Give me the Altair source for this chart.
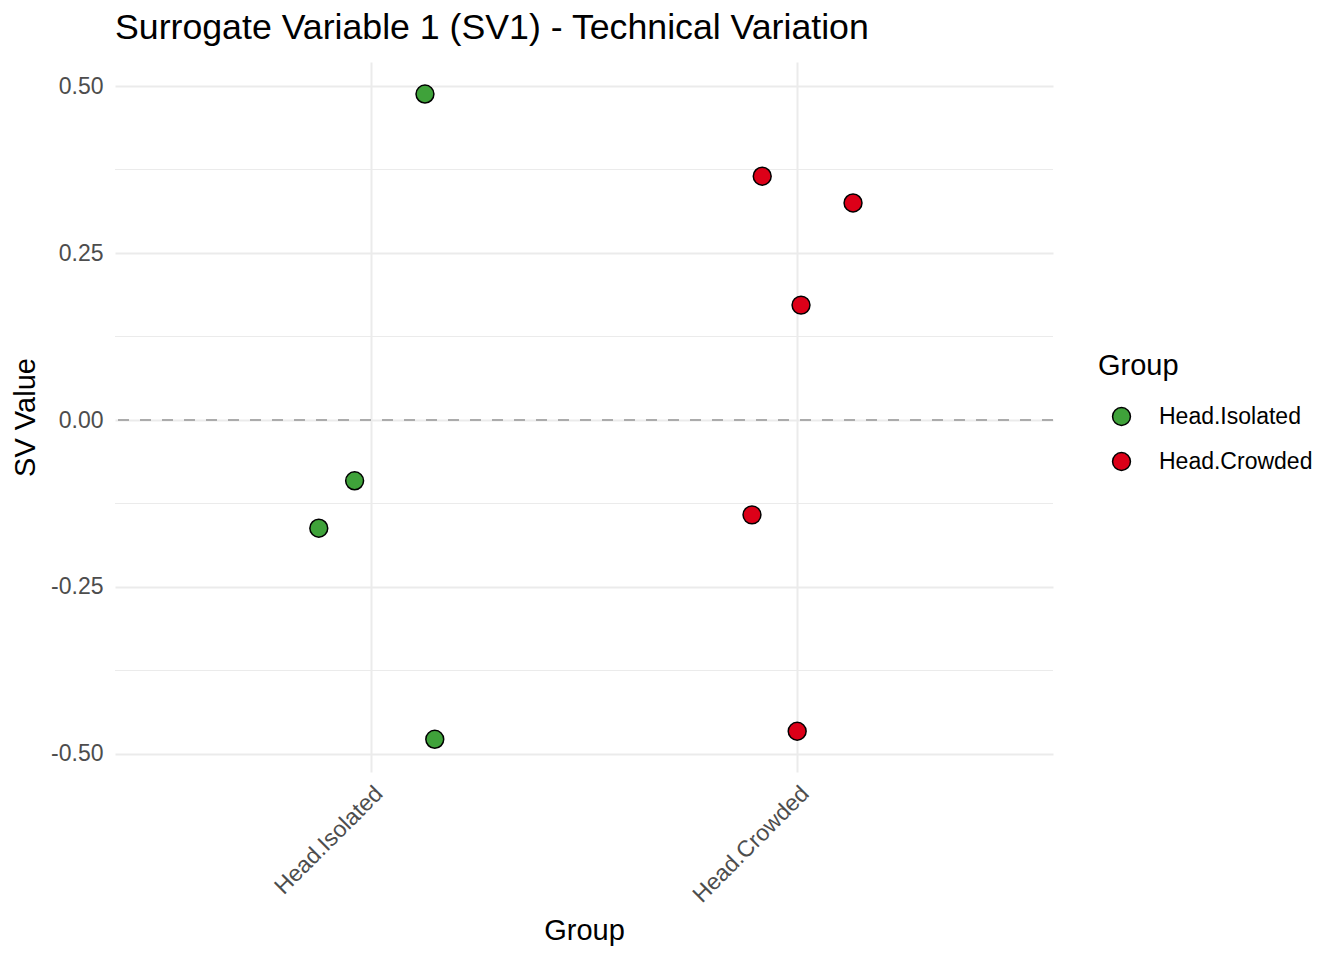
import altair as alt
import pandas as pd

# ---- data ----
groups = ["Head.Isolated", "Head.Isolated", "Head.Isolated", "Head.Isolated",
          "Head.Crowded", "Head.Crowded", "Head.Crowded", "Head.Crowded", "Head.Crowded"]
jitter = [0.127, -0.038, -0.122, 0.150, -0.082, 0.131, 0.009, -0.106, 0.000]
sv_values = [0.488, -0.091, -0.162, -0.478, 0.365, 0.325, 0.172, -0.142, -0.466]

categories = ["Head.Isolated", "Head.Crowded"]
colors = ["#3FA23A", "#DC0018"]
major_ticks = [-0.5, -0.25, 0.0, 0.25, 0.5]
minor_ticks = [-0.375, -0.125, 0.125, 0.375]

df = pd.DataFrame({"Group": groups, "jitter": jitter, "SV": sv_values})
df["idx"] = [categories.index(g) + 1 for g in groups]
df["xpos"] = df["idx"] + df["jitter"]

minor_df = pd.DataFrame({"y": minor_ticks})
zero_df = pd.DataFrame({"y": [0.0]})

label_expr = " : ".join(
    [f"datum.value == {i + 1} ? '{c}'" for i, c in enumerate(categories[:-1])]
) + f" : '{categories[-1]}'"

x_scale = alt.Scale(domain=[0.4, 2.6], nice=False, zero=False)
y_scale = alt.Scale(domain=[-0.527, 0.536], nice=False, zero=False)

x_axis = alt.Axis(
    values=[1, 2], labelExpr=label_expr, labelAngle=-45, labelAlign="right",
    labelBaseline="top", labelFontSize=23, labelColor="#4D4D4D", labelPadding=10,
    ticks=False, domain=False, grid=True, gridColor="#EBEBEB", gridWidth=2,
    title="Group", titleFontSize=29, titleFontWeight="normal", titleColor="black",
    titlePadding=10, labelFont="Liberation Sans", titleFont="Liberation Sans",
)
y_axis = alt.Axis(
    values=major_ticks,
    labelExpr="replace(format(datum.value, '.2f'), '\u2212', '-')",
    labelFontSize=23, labelColor="#4D4D4D", labelPadding=12,
    ticks=False, domain=False, grid=True, gridColor="#EBEBEB", gridWidth=2,
    title="SV Value", titleFontSize=29, titleFontWeight="normal", titleColor="black",
    titlePadding=10, labelFont="Liberation Sans", titleFont="Liberation Sans",
)

minor = alt.Chart(minor_df).mark_rule(color="#EBEBEB", strokeWidth=1).encode(
    y=alt.Y("y:Q", scale=y_scale, axis=y_axis)
)
zero = alt.Chart(zero_df).mark_rule(color="#ABABAB", strokeWidth=2, strokeDash=[11, 11]).encode(
    y=alt.Y("y:Q", scale=y_scale)
)
points = alt.Chart(df).mark_point(
    filled=True, shape="circle", size=320, stroke="black", strokeWidth=1.5, opacity=1
).encode(
    x=alt.X("xpos:Q", scale=x_scale, axis=x_axis),
    y=alt.Y("SV:Q", scale=y_scale),
    fill=alt.Fill(
        "Group:N",
        scale=alt.Scale(domain=categories, range=colors),
        legend=alt.Legend(
            title="Group", orient="none", legendX=983, legendY=290,
            titleFontSize=29, titleFontWeight="normal", titleColor="black",
            titleFont="Liberation Sans", titlePadding=24,
            labelFontSize=23, labelColor="black", labelFont="Liberation Sans",
            labelOffset=26, symbolOffset=12, rowPadding=20,
            symbolType="circle", symbolSize=320, symbolStrokeColor="black",
            symbolStrokeWidth=1.5, symbolOpacity=1,
        ),
    ),
)

chart = alt.layer(minor, zero, points).properties(
    width=938, height=710,
    background="white",
    title=alt.TitleParams(
        "Surrogate Variable 1 (SV1) - Technical Variation",
        anchor="start", frame="group", fontSize=35.7, fontWeight="normal",
        font="Liberation Sans", color="black", baseline="alphabetic", offset=-13,
    ),
    autosize=alt.AutoSizeParams(type="none"),
    padding={"left": 107, "top": 54, "right": 283, "bottom": 180},
).configure_view(strokeWidth=0, stroke="transparent")

chart.save("out.html", embed_options={"renderer": "svg", "actions": False})
